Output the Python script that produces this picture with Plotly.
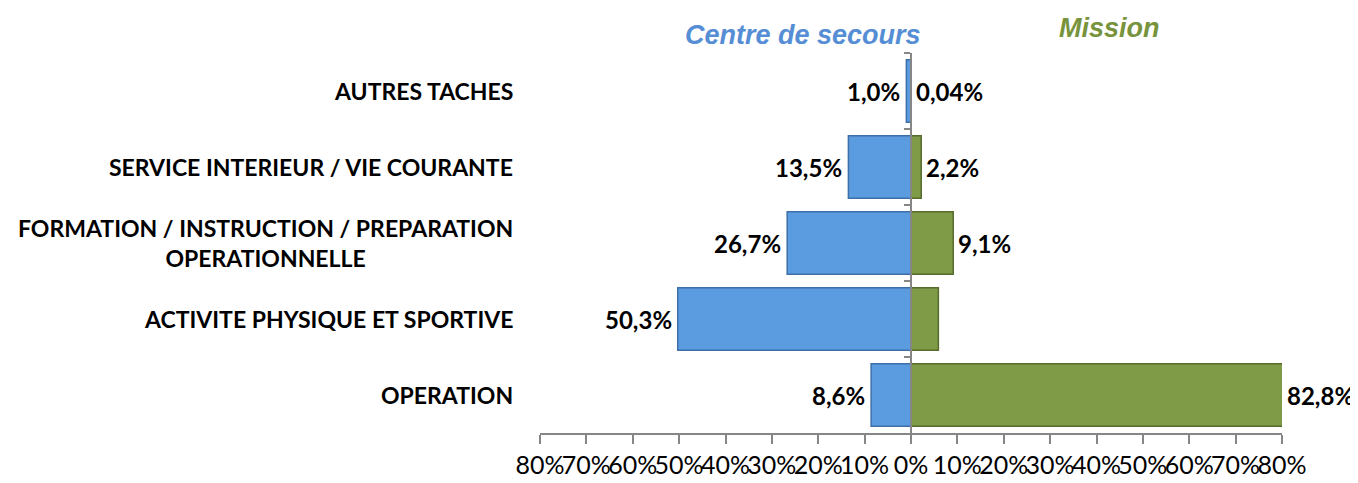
import plotly.graph_objects as go

# --- Données ---------------------------------------------------------
categories = [
    "AUTRES TACHES",
    "SERVICE INTERIEUR / VIE COURANTE",
    "FORMATION / INSTRUCTION / PREPARATION<br>OPERATIONNELLE",
    "ACTIVITE PHYSIQUE ET SPORTIVE",
    "OPERATION",
]
centre_secours = [1.0, 13.5, 26.7, 50.3, 8.6]
mission = [0.04, 2.2, 9.1, 5.9, 82.8]
centre_labels = ["1,0%", "13,5%", "26,7%", "50,3%", "8,6%"]
mission_labels = ["0,04%", "2,2%", "9,1%", "", "82,8%"]
tick_vals = list(range(-80, 81, 10))
tick_text = [f"{abs(v)}%" for v in tick_vals]
X_MAX = 80

BLUE = "#5b9be0"
BLUE_EDGE = "#3f6fa8"
GREEN = "#7f9b48"
GREEN_EDGE = "#566b2c"
AXIS = "#868686"
LABEL_FONT = dict(family="Lato, sans-serif", size=24, color="black", weight="bold")

fig = go.Figure()

fig.add_trace(go.Bar(
    y=categories, x=[-v for v in centre_secours], orientation="h",
    name="Centre de secours",
    marker=dict(color=BLUE, line=dict(color=BLUE_EDGE, width=1.5)),
))
fig.add_trace(go.Bar(
    y=categories, x=mission, orientation="h",
    name="Mission",
    marker=dict(color=GREEN, line=dict(color=GREEN_EDGE, width=1.5)),
))

# étiquettes de valeurs (à l'extrémité visible de la barre)
for cat, v, lab in zip(categories, centre_secours, centre_labels):
    fig.add_annotation(
        x=-min(v, X_MAX), y=cat, text=lab, showarrow=False,
        xanchor="right", xshift=-4, font=LABEL_FONT,
    )
for cat, v, lab in zip(categories, mission, mission_labels):
    if lab:
        fig.add_annotation(
            x=min(v, X_MAX), y=cat, text=lab, showarrow=False,
            xanchor="left", xshift=3, font=LABEL_FONT,
        )

# étiquettes de catégories (alignées à droite, lignes centrées)
for cat in categories:
    fig.add_annotation(
        x=-0.034, xref="paper", y=cat, yref="y",
        text=f"<b>{cat}</b>", showarrow=False,
        xanchor="right", align="center",
        font=dict(family="Lato, sans-serif", size=23, color="black"),
    )

fig.add_annotation(
    x=-23.3, xref="x", y=1.0, yref="paper", yanchor="middle", yshift=18,
    text="<b><i>Centre de secours</i></b>", showarrow=False,
    font=dict(family="Liberation Sans, Arial, sans-serif", size=27, color="#558ed5"),
)
fig.add_annotation(
    x=42.7, xref="x", y=1.0, yref="paper", yanchor="middle", yshift=25,
    text="<b><i>Mission</i></b>", showarrow=False,
    font=dict(family="Liberation Sans, Arial, sans-serif", size=27, color="#77933c"),
)

fig.update_layout(
    width=1358, height=483,
    barmode="relative", bargap=0.18,
    showlegend=False,
    plot_bgcolor="white", paper_bgcolor="white",
    margin=dict(l=532, r=84, t=45, b=54),
    font=dict(family="Lato, sans-serif", color="black"),
)
fig.update_xaxes(
    range=[-X_MAX, X_MAX], tickvals=tick_vals, ticktext=tick_text, tickangle=0,
    showgrid=False, zeroline=False, showline=True, linecolor=AXIS, linewidth=1.5,
    ticks="outside", ticklen=9, tickcolor=AXIS, tickwidth=1.5,
    tickfont=dict(family="Lato, sans-serif", size=25, color="black"),
)
fig.update_yaxes(
    autorange="reversed", anchor="free", position=0.5,
    showticklabels=False, showgrid=False, zeroline=False,
    showline=True, linecolor=AXIS, linewidth=1.5,
    ticks="outside", tickson="boundaries", ticklen=6, tickcolor=AXIS, tickwidth=1.5,
)

fig.write_html("out.html")
